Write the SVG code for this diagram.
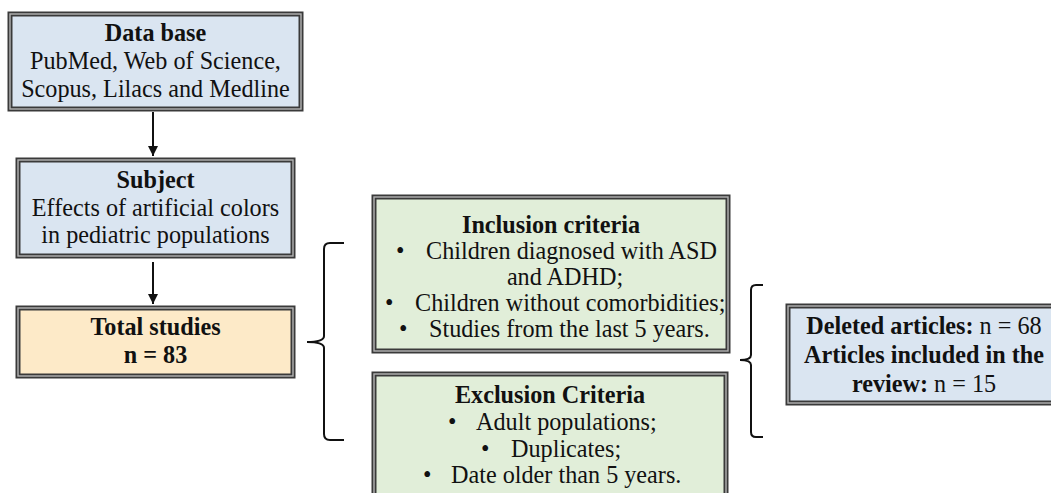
<svg xmlns="http://www.w3.org/2000/svg" width="1051" height="493" viewBox="0 0 1051 493">
<style>
.t{font-family:"Liberation Serif","Times New Roman",serif;font-size:24.2px;fill:#111;}
.m{text-anchor:middle;}
.b{font-weight:bold;}
.box-o{stroke:#3a3a3a;stroke-width:5;}
.box-i{fill:none;stroke:#b4b4b4;stroke-width:1.4;}
.blue{fill:#dae5f1;}
.orange{fill:#fdeac8;}
.green{fill:#e1eed9;}
.con{fill:none;stroke:#111;stroke-width:2;}
</style>
<defs>
<marker id="ah" viewBox="0 0 10 10" refX="10" refY="5" markerWidth="5" markerHeight="5" orient="auto" markerUnits="strokeWidth">
<path d="M0,0 L10,5 L0,10 z" fill="#111"/>
</marker>
</defs>
<rect width="1051" height="493" fill="#fff"/>
<g id="connectors">
<line class="con" x1="153" y1="112" x2="153" y2="156" marker-end="url(#ah)"/>
<line class="con" x1="153" y1="262" x2="153" y2="304" marker-end="url(#ah)"/>
<path class="con" d="M344,243 H330 Q324,243 324,249 V336 Q324,342 307,342 Q324,342 324,348 V434 Q324,440 330,440 H344"/>
<path class="con" d="M763,285 H756 Q751,285 751,290 V355 Q751,360 740,360 Q751,360 751,365 V432 Q751,437 756,437 H763"/>
</g>
<g id="database">
<rect class="box-o blue" x="10" y="14" width="291" height="95"/>
<rect class="box-i" x="10" y="14" width="291" height="95"/>
<text class="t m" x="155.5" y="41"><tspan class="b">Data base</tspan><tspan x="155.5" y="69">PubMed, Web of Science,</tspan><tspan x="155.5" y="97">Scopus, Lilacs and Medline</tspan></text>
</g>
<g id="subject">
<rect class="box-o blue" x="18" y="160" width="275" height="96"/>
<rect class="box-i" x="18" y="160" width="275" height="96"/>
<text class="t m" x="155.5" y="188"><tspan class="b">Subject</tspan><tspan x="155.5" y="216">Effects of artificial colors</tspan><tspan x="155.5" y="243">in pediatric populations</tspan></text>
</g>
<g id="total">
<rect class="box-o orange" x="18" y="308" width="275" height="68"/>
<rect class="box-i" x="18" y="308" width="275" height="68"/>
<text class="t m b" x="155.5" y="335">Total studies<tspan x="155.5" y="363">n = 83</tspan></text>
</g>
<g id="inclusion">
<rect class="box-o green" x="374" y="197" width="354" height="154"/>
<rect class="box-i" x="374" y="197" width="354" height="154"/>
<text class="t m b" x="551" y="233">Inclusion criteria</text>
<text class="t" x="396" y="259">•</text><text class="t" x="426" y="259">Children diagnosed with ASD</text>
<text class="t m" x="565" y="285">and ADHD;</text>
<text class="t" x="385" y="311">•</text><text class="t" x="415" y="311">Children without comorbidities;</text>
<text class="t" x="399" y="337">•</text><text class="t" x="429" y="337">Studies from the last 5 years.</text>
</g>
<g id="exclusion">
<rect class="box-o green" x="374" y="374" width="352" height="130"/>
<rect class="box-i" x="374" y="374" width="352" height="130"/>
<text class="t m b" x="550" y="403">Exclusion Criteria</text>
<text class="t" x="448" y="430">•</text><text class="t" x="476" y="430">Adult populations;</text>
<text class="t" x="481" y="457">•</text><text class="t" x="511" y="457">Duplicates;</text>
<text class="t" x="423" y="483">•</text><text class="t" x="451" y="483">Date older than 5 years.</text>
</g>
<g id="result">
<rect class="box-o blue" x="788" y="306" width="275" height="97"/>
<rect class="box-i" x="788" y="306" width="275" height="97"/>
<text class="t m" x="924" y="334"><tspan class="b">Deleted articles:</tspan> n = 68</text>
<text class="t m b" x="924" y="363">Articles included in the</text>
<text class="t m" x="924" y="392"><tspan class="b">review:</tspan> n = 15</text>
</g>
</svg>
